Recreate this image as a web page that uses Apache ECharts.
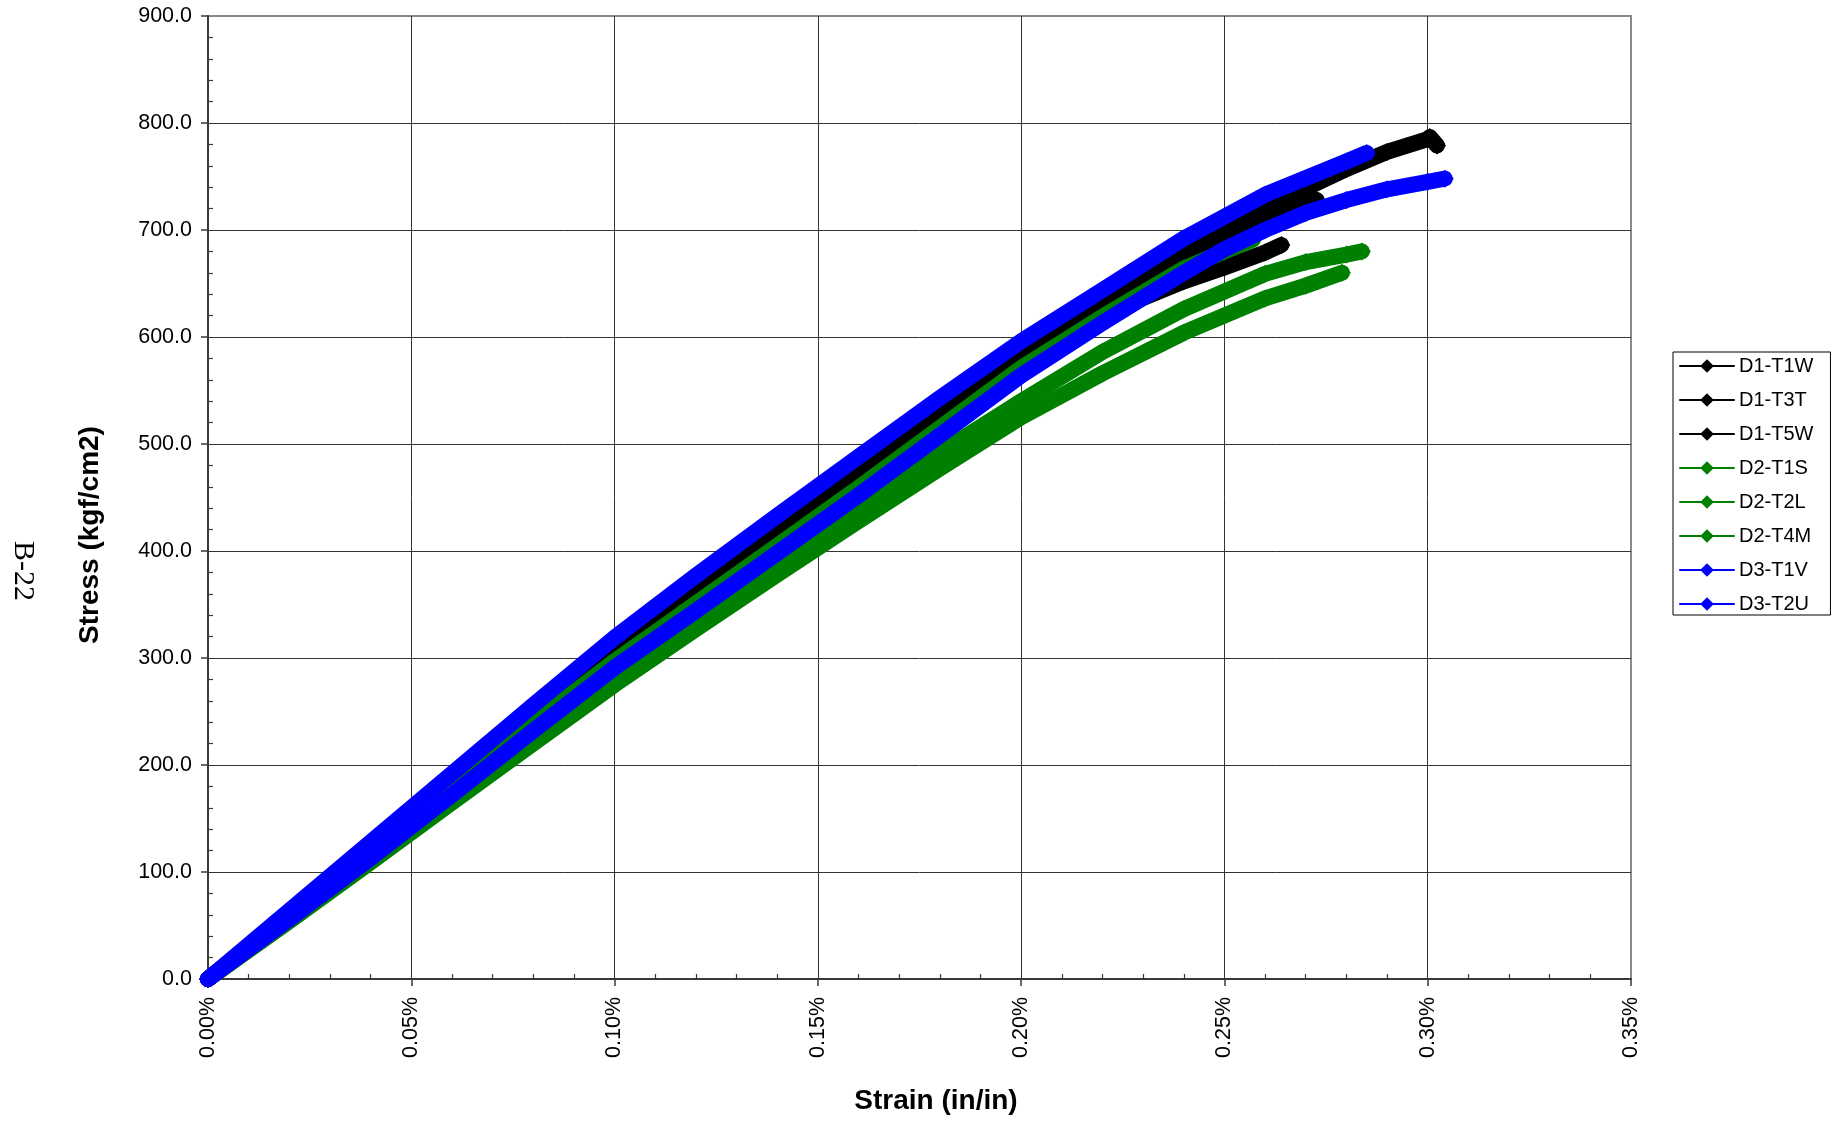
<!DOCTYPE html>
<html>
<head>
<meta charset="utf-8">
<script src="https://cdn.jsdelivr.net/npm/echarts@6/dist/echarts.min.js"></script>
<style>
  html, body { margin: 0; padding: 0; background: #ffffff; }
  #chart { width: 1832px; height: 1122px; }
</style>
</head>
<body>
<div id="chart"></div>
<script>
// ---- Data (strain in %, stress in kgf/cm2) ----
const seriesNames = ['D1-T1W', 'D1-T3T', 'D1-T5W', 'D2-T1S', 'D2-T2L', 'D2-T4M', 'D3-T1V', 'D3-T2U'];
const seriesColors = ['#000000', '#000000', '#000000', '#008000', '#008000', '#008000', '#0000ff', '#0000ff'];

const d1t1wStrain = [0, 0.02, 0.04, 0.06, 0.08, 0.10, 0.12, 0.14, 0.16, 0.18, 0.20, 0.22, 0.24, 0.26, 0.28, 0.29, 0.30, 0.3005, 0.3023];
const d1t1wStress = [0, 60, 121, 183, 245, 306, 362, 417, 471, 528, 583, 632, 679, 721, 757, 773, 785, 787, 779];

const d1t3tStrain = [0, 0.02, 0.04, 0.06, 0.08, 0.10, 0.12, 0.14, 0.16, 0.18, 0.20, 0.22, 0.24, 0.26, 0.27, 0.2727];
const d1t3tStress = [0, 61, 122, 184, 246, 305, 360, 414, 468, 524, 578, 627, 674, 712, 725, 728];

const d1t5wStrain = [0, 0.02, 0.04, 0.06, 0.08, 0.10, 0.12, 0.14, 0.16, 0.18, 0.20, 0.22, 0.24, 0.25, 0.26, 0.264];
const d1t5wStress = [0, 60, 120, 182, 243, 302, 357, 411, 465, 521, 577, 621, 652, 665, 679, 686];

const d2t1sStrain = [0, 0.02, 0.04, 0.06, 0.08, 0.10, 0.12, 0.14, 0.16, 0.18, 0.20, 0.22, 0.24, 0.25, 0.257];
const d2t1sStress = [0, 59, 118, 179, 239, 297, 351, 405, 459, 515, 571, 619, 664, 680, 691];

const d2t2lStrain = [0, 0.02, 0.04, 0.06, 0.08, 0.10, 0.12, 0.14, 0.16, 0.18, 0.20, 0.22, 0.24, 0.26, 0.27, 0.28, 0.2838];
const d2t2lStress = [0, 55, 112, 170, 226, 281, 336, 390, 442, 492, 540, 586, 626, 659, 670, 677, 680];

const d2t4mStrain = [0, 0.02, 0.04, 0.06, 0.08, 0.10, 0.12, 0.14, 0.16, 0.18, 0.20, 0.22, 0.24, 0.26, 0.27, 0.2789];
const d2t4mStress = [0, 54, 109, 165, 220, 275, 327, 378, 428, 477, 525, 566, 604, 636, 648, 660];

const d3t1vStrain = [0, 0.02, 0.04, 0.06, 0.08, 0.10, 0.12, 0.14, 0.16, 0.18, 0.20, 0.22, 0.24, 0.26, 0.28, 0.285];
const d3t1vStress = [0, 64, 128, 192, 256, 319, 377, 433, 488, 543, 596, 644, 692, 733, 764, 772];

const d3t2uStrain = [0, 0.02, 0.04, 0.06, 0.08, 0.10, 0.12, 0.14, 0.16, 0.18, 0.20, 0.22, 0.24, 0.25, 0.26, 0.27, 0.28, 0.29, 0.30, 0.3042];
const d3t2uStress = [0, 56, 113, 172, 232, 291, 344, 398, 452, 508, 564, 613, 660, 682, 700, 716, 728, 738, 745, 748];

const strainTicks = [0, 0.05, 0.10, 0.15, 0.20, 0.25, 0.30, 0.35];
const stressTicks = [0, 100, 200, 300, 400, 500, 600, 700, 800, 900];

const xTitle = 'Strain (in/in)';
const yTitle = 'Stress (kgf/cm2)';
const pageLabel = 'B-22';

const allStrain = [d1t1wStrain, d1t3tStrain, d1t5wStrain, d2t1sStrain, d2t2lStrain, d2t4mStrain, d3t1vStrain, d3t2uStrain];
const allStress = [d1t1wStress, d1t3tStress, d1t5wStress, d2t1sStress, d2t2lStress, d2t4mStress, d3t1vStress, d3t2uStress];

// ---- Chart ----
const chart = echarts.init(document.getElementById('chart'), null, { renderer: 'canvas' });
const FONT = '"Liberation Sans", Arial, sans-serif';
const axisDark = '#3a3a3a';

const series = seriesNames.map((name, i) => ({
  name: name,
  type: 'line',
  data: allStrain[i].map((s, k) => [s, allStress[i][k]]),
  symbol: 'diamond',
  symbolSize: 18,
  showSymbol: true,
  showAllSymbol: true,
  clip: false,
  color: seriesColors[i],
  itemStyle: { color: seriesColors[i], borderWidth: 0, opacity: 1 },
  lineStyle: { color: seriesColors[i], width: 16, join: 'round', cap: 'round' },
  emphasis: { disabled: true },
  z: 2 + i
}));

const option = {
  animation: false,
  backgroundColor: '#ffffff',
  grid: {
    left: 208, right: 201, top: 16, bottom: 143,
    show: true, borderColor: '#8a8a8a', borderWidth: 2,
    containLabel: false, outerBoundsMode: 'none'
  },
  xAxis: {
    type: 'value',
    min: strainTicks[0],
    max: strainTicks[strainTicks.length - 1],
    interval: 0.05,
    axisLine: { show: true, onZero: false, lineStyle: { color: axisDark, width: 2 } },
    axisTick: { show: true, inside: false, length: 7, lineStyle: { color: axisDark, width: 1.5 } },
    minorTick: { show: true, splitNumber: 5, length: -5, lineStyle: { color: axisDark, width: 1.2 } },
    splitLine: { show: true, showMinLine: false, showMaxLine: false, lineStyle: { color: '#333333', width: 1 } },
    axisLabel: {
      rotate: 90, margin: 18, fontSize: 21.5, fontFamily: FONT, color: '#000',
      formatter: v => v.toFixed(2) + '%'
    }
  },
  yAxis: {
    type: 'value',
    min: stressTicks[0],
    max: stressTicks[stressTicks.length - 1],
    interval: 100,
    axisLine: { show: true, onZero: false, lineStyle: { color: axisDark, width: 2 } },
    axisTick: { show: true, inside: false, length: 7, lineStyle: { color: axisDark, width: 1.5 } },
    minorTick: { show: true, splitNumber: 5, length: -5, lineStyle: { color: axisDark, width: 1.2 } },
    splitLine: { show: true, showMinLine: false, showMaxLine: false, lineStyle: { color: '#333333', width: 1 } },
    axisLabel: {
      margin: 16, fontSize: 21.5, fontFamily: FONT, color: '#000',
      formatter: v => v.toFixed(1)
    }
  },
  legend: {
    orient: 'vertical',
    left: 1673, top: 352,
    padding: [4, 17, 1, 6],
    backgroundColor: '#ffffff',
    borderColor: '#000000', borderWidth: 1, borderRadius: 0,
    itemWidth: 54, itemHeight: 17, itemGap: 14,
    lineStyle: { width: 2 },
    itemStyle: { borderWidth: 0 },
    textStyle: { fontSize: 20, fontFamily: FONT, color: '#000', lineHeight: 20 },
    data: seriesNames,
    z: 20
  },
  graphic: [
    {
      type: 'text', x: 90, y: 535, rotation: Math.PI / 2,
      style: { text: yTitle, font: 'bold 28px ' + FONT, fill: '#000',
        align: 'center', verticalAlign: 'middle', textAlign: 'center', textVerticalAlign: 'middle' }
    },
    {
      type: 'text', x: 936, y: 1101,
      style: { text: xTitle, font: 'bold 28px ' + FONT, fill: '#000',
        align: 'center', verticalAlign: 'middle', textAlign: 'center', textVerticalAlign: 'middle' }
    },
    {
      type: 'text', x: 23, y: 571, rotation: -Math.PI / 2,
      style: { text: pageLabel, font: '30px "Liberation Serif", "Times New Roman", serif', fill: '#000',
        align: 'center', verticalAlign: 'middle', textAlign: 'center', textVerticalAlign: 'middle' }
    }
  ],
  series: series
};
chart.setOption(option);
</script>
</body>
</html>
